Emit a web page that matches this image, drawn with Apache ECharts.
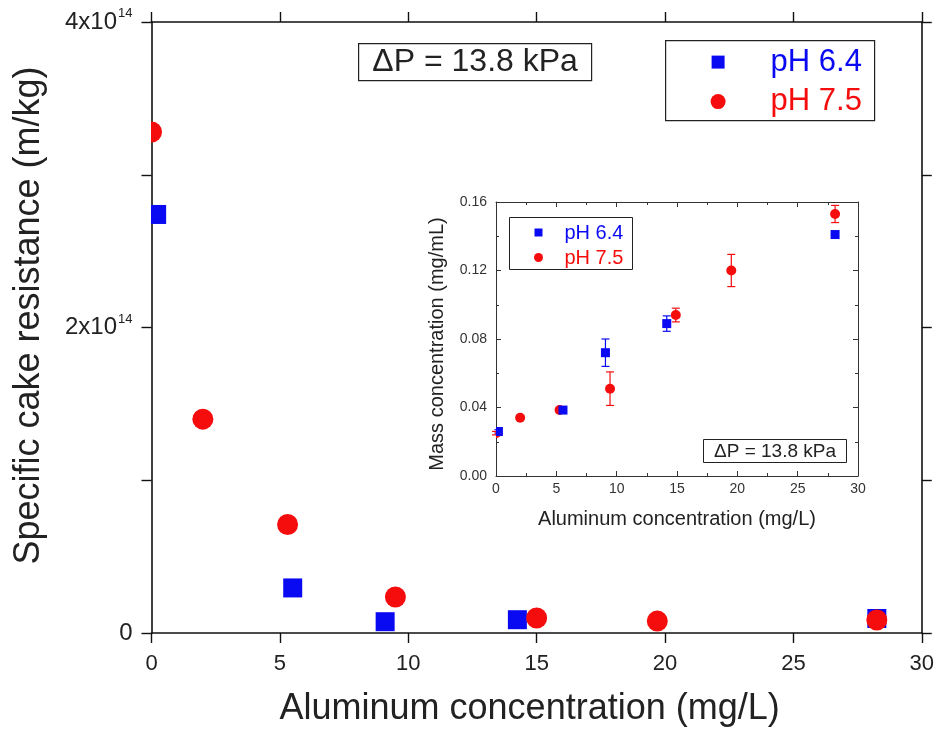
<!DOCTYPE html>
<html>
<head>
<meta charset="utf-8">
<script src="https://cdn.jsdelivr.net/npm/echarts@6/dist/echarts.min.js"></script>
<style>
  html, body { margin: 0; padding: 0; background: #fff; }
  #chart { width: 937px; height: 732px; }
</style>
</head>
<body>
<div id="chart"></div>
<script>
// Specific cake resistance vs. aluminium dose (main panel), in m/kg
const alX64 = [0.2, 5.5, 9.1, 14.25, 28.25];
const resist64 = [2.74e14, 0.295e14, 0.074e14, 0.087e14, 0.095e14];
const alX75 = [0, 2.0, 5.3, 9.5, 15.0, 19.7, 28.25];
const resist75 = [3.28e14, 1.40e14, 0.71e14, 0.236e14, 0.098e14, 0.078e14, 0.085e14];

// Mass concentration vs. aluminium dose (inset), mg/mL, with standard deviations
const inX64 = [0.2, 5.55, 9.07, 14.15, 28.1];
const mass64 = [0.026, 0.0385, 0.072, 0.089, 0.141];
const massErr64 = [0.001, 0.001, 0.008, 0.0045, 0.001];
const inX75 = [0, 2.0, 5.27, 9.45, 14.9, 19.5, 28.1];
const mass75 = [0.025, 0.034, 0.0385, 0.051, 0.094, 0.120, 0.153];
const massErr75 = [0.001, 0.001, 0.001, 0.0098, 0.004, 0.0094, 0.005];

const xTicks = [0, 5, 10, 15, 20, 25, 30];
const mainYTicks = [0, 1e14, 2e14, 3e14, 4e14];
const insetYTicks = [0, 0.04, 0.08, 0.12, 0.16];

const BLUE = '#0a0af2';
const RED = '#f50c0c';
const FONT = '"Liberation Sans", Arial, sans-serif';

const zip = (xs, ys) => xs.map((x, i) => [x, ys[i]]);
const zip3 = (xs, ys, es) => xs.map((x, i) => [x, ys[i], es[i]]);

// marker drawn through the axis scales and clipped to the plot frame
function marker(shape, size, color) {
  return function (params, api) {
    const p = api.coord([api.value(0), api.value(1)]);
    if (shape === 'rect') {
      return {
        type: 'rect',
        shape: { x: p[0] - size / 2, y: p[1] - size / 2, width: size, height: size },
        style: { fill: color }
      };
    }
    return { type: 'circle', shape: { cx: p[0], cy: p[1], r: size / 2 }, style: { fill: color } };
  };
}

function errorBars(color) {
  return function (params, api) {
    const x = api.value(0), y = api.value(1), e = api.value(2);
    const lo = api.coord([x, y - e]);
    const hi = api.coord([x, y + e]);
    const cap = 4;
    const style = { stroke: color, lineWidth: 1.2 };
    return {
      type: 'group',
      children: [
        { type: 'line', shape: { x1: lo[0], y1: lo[1], x2: hi[0], y2: hi[1] }, style },
        { type: 'line', shape: { x1: lo[0] - cap, y1: lo[1], x2: lo[0] + cap, y2: lo[1] }, style },
        { type: 'line', shape: { x1: hi[0] - cap, y1: hi[1], x2: hi[0] + cap, y2: hi[1] }, style }
      ]
    };
  };
}

const mainLine = { onZero: false, lineStyle: { color: '#111', width: 1.6 } };
const mainTick = { show: true, length: 10, lineStyle: { color: '#111', width: 1.4 } };
const insetLine = { onZero: false, lineStyle: { color: '#333', width: 1 } };
const insetTick = { show: true, inside: true, length: 5, lineStyle: { color: '#333' } };
const insetMinor = { show: true, splitNumber: 2, length: 3, lineStyle: { color: '#333' } };

const option = {
  animation: false,
  backgroundColor: '#fff',
  textStyle: { fontFamily: FONT },
  grid: [
    { left: 151.5, right: 14, top: 22, bottom: 98 },
    { left: 496, right: 79, top: 202, bottom: 256 }
  ],
  xAxis: [
    {
      gridIndex: 0, type: 'value', position: 'bottom',
      min: xTicks[0], max: xTicks[xTicks.length - 1], interval: 5,
      axisLine: mainLine, axisTick: mainTick,
      axisLabel: { fontSize: 22, color: '#222', margin: 20, fontFamily: FONT },
      splitLine: { show: false },
      name: 'Aluminum concentration (mg/L)', nameLocation: 'middle', nameGap: 58,
      nameTextStyle: { fontSize: 36, color: '#222', fontFamily: FONT, padding: [0, 14, 0, 0] }
    },
    {
      gridIndex: 0, type: 'value', position: 'top',
      min: 0, max: 30, interval: 5,
      axisLine: mainLine, axisTick: mainTick,
      axisLabel: { show: false }, splitLine: { show: false }
    },
    {
      gridIndex: 1, type: 'value', position: 'bottom',
      min: 0, max: 30, interval: 5,
      axisLine: insetLine, axisTick: insetTick, minorTick: insetMinor,
      axisLabel: { fontSize: 14, color: '#333', margin: 6, fontFamily: FONT },
      splitLine: { show: false },
      name: 'Aluminum concentration (mg/L)', nameLocation: 'middle', nameGap: 33,
      nameTextStyle: { fontSize: 20, color: '#222', fontFamily: FONT }
    },
    {
      gridIndex: 1, type: 'value', position: 'top',
      min: 0, max: 30, interval: 5,
      axisLine: insetLine, axisTick: insetTick, minorTick: insetMinor,
      axisLabel: { show: false }, splitLine: { show: false }
    }
  ],
  yAxis: [
    {
      gridIndex: 0, type: 'value', position: 'left',
      min: mainYTicks[0], max: mainYTicks[mainYTicks.length - 1], interval: 1e14,
      axisLine: mainLine, axisTick: mainTick,
      axisLabel: {
        margin: 19, color: '#222', fontFamily: FONT,
        formatter: function (v) {
          if (v === 0) return '{b|0}';
          const m = Math.round(v / 1e14);
          if (m % 2 !== 0) return '';
          return '{b|' + m + 'x10}{s|14}';
        },
        rich: {
          b: { fontSize: 24, color: '#222', fontFamily: FONT, lineHeight: 30 },
          s: { fontSize: 13, color: '#222', fontFamily: FONT, verticalAlign: 'top', lineHeight: 30, padding: [0, 0, 0, 1] }
        }
      },
      splitLine: { show: false },
      name: 'Specific cake resistance (m/kg)', nameLocation: 'middle', nameGap: 104,
      nameTextStyle: { fontSize: 36, color: '#222', fontFamily: FONT, padding: [0, 0, 0, 24] }
    },
    {
      gridIndex: 0, type: 'value', position: 'right',
      min: 0, max: 4e14, interval: 1e14,
      axisLine: mainLine, axisTick: mainTick,
      axisLabel: { show: false }, splitLine: { show: false }
    },
    {
      gridIndex: 1, type: 'value', position: 'left',
      min: insetYTicks[0], max: insetYTicks[insetYTicks.length - 1], interval: 0.04,
      axisLine: insetLine, axisTick: insetTick, minorTick: insetMinor,
      axisLabel: { fontSize: 14, color: '#333', margin: 9, fontFamily: FONT, formatter: v => v.toFixed(2) },
      splitLine: { show: false },
      name: 'Mass concentration (mg/mL)', nameLocation: 'middle', nameGap: 49,
      nameTextStyle: { fontSize: 20, color: '#222', fontFamily: FONT, padding: [0, 10, 0, 0] }
    },
    {
      gridIndex: 1, type: 'value', position: 'right',
      min: 0, max: 0.16, interval: 0.04,
      axisLine: insetLine, axisTick: insetTick, minorTick: insetMinor,
      axisLabel: { show: false }, splitLine: { show: false }
    }
  ],
  series: [
    {
      name: 'pH 6.4', type: 'custom', xAxisIndex: 0, yAxisIndex: 0, clip: true,
      renderItem: marker('rect', 19, BLUE), data: zip(alX64, resist64), z: 3
    },
    {
      name: 'pH 7.5', type: 'custom', xAxisIndex: 0, yAxisIndex: 0, clip: true,
      renderItem: marker('circle', 21, RED), data: zip(alX75, resist75), z: 4
    },
    {
      name: 'pH 6.4 sd', type: 'custom', xAxisIndex: 2, yAxisIndex: 2,
      renderItem: errorBars(BLUE), data: zip3(inX64, mass64, massErr64), z: 2
    },
    {
      name: 'pH 7.5 sd', type: 'custom', xAxisIndex: 2, yAxisIndex: 2,
      renderItem: errorBars(RED), data: zip3(inX75, mass75, massErr75), z: 2
    },
    {
      name: 'pH 7.5 inset', type: 'custom', xAxisIndex: 2, yAxisIndex: 2, clip: true,
      renderItem: marker('circle', 10, RED), data: zip(inX75, mass75), z: 3
    },
    {
      name: 'pH 6.4 inset', type: 'custom', xAxisIndex: 2, yAxisIndex: 2, clip: true,
      renderItem: marker('rect', 9, BLUE), data: zip(inX64, mass64), z: 4
    }
  ],
  graphic: [
    // main pressure note
    {
      type: 'group', left: 358, top: 43,
      children: [
        { type: 'rect', shape: { x: 0, y: 0, width: 233, height: 37 }, style: { fill: '#fff', stroke: '#222', lineWidth: 1.2 } },
        { type: 'text', x: 116.5, y: 19, style: { text: '\u0394P = 13.8 kPa', fill: '#222', font: '32px ' + FONT, textAlign: 'center', textVerticalAlign: 'middle' } }
      ]
    },
    // main legend
    {
      type: 'group', left: 665, top: 40,
      children: [
        { type: 'rect', shape: { x: 0, y: 0, width: 209, height: 80 }, style: { fill: '#fff', stroke: '#222', lineWidth: 1.2 } },
        { type: 'rect', shape: { x: 46, y: 15, width: 13, height: 13 }, style: { fill: BLUE } },
        { type: 'text', x: 105, y: 22, style: { text: 'pH 6.4', fill: BLUE, font: '31px ' + FONT, textVerticalAlign: 'middle' } },
        { type: 'circle', shape: { cx: 52.5, cy: 61, r: 7.5 }, style: { fill: RED } },
        { type: 'text', x: 105, y: 61, style: { text: 'pH 7.5', fill: RED, font: '31px ' + FONT, textVerticalAlign: 'middle' } }
      ]
    },
    // inset legend
    {
      type: 'group', left: 509, top: 217,
      children: [
        { type: 'rect', shape: { x: 0, y: 0, width: 123, height: 52 }, style: { fill: '#fff', stroke: '#222', lineWidth: 1 } },
        { type: 'rect', shape: { x: 25, y: 11, width: 8, height: 8 }, style: { fill: BLUE } },
        { type: 'text', x: 55, y: 16, style: { text: 'pH 6.4', fill: BLUE, font: '20px ' + FONT, textVerticalAlign: 'middle' } },
        { type: 'circle', shape: { cx: 29, cy: 40, r: 4.5 }, style: { fill: RED } },
        { type: 'text', x: 55, y: 41, style: { text: 'pH 7.5', fill: RED, font: '20px ' + FONT, textVerticalAlign: 'middle' } }
      ]
    },
    // inset pressure note
    {
      type: 'group', left: 703, top: 439,
      children: [
        { type: 'rect', shape: { x: 0, y: 0, width: 143, height: 23 }, style: { fill: '#fff', stroke: '#222', lineWidth: 1 } },
        { type: 'text', x: 71.5, y: 12, style: { text: '\u0394P = 13.8 kPa', fill: '#222', font: '19px ' + FONT, textAlign: 'center', textVerticalAlign: 'middle' } }
      ]
    }
  ]
};

const chart = echarts.init(document.getElementById('chart'), null, { renderer: 'canvas' });
chart.setOption(option);
</script>
</body>
</html>
